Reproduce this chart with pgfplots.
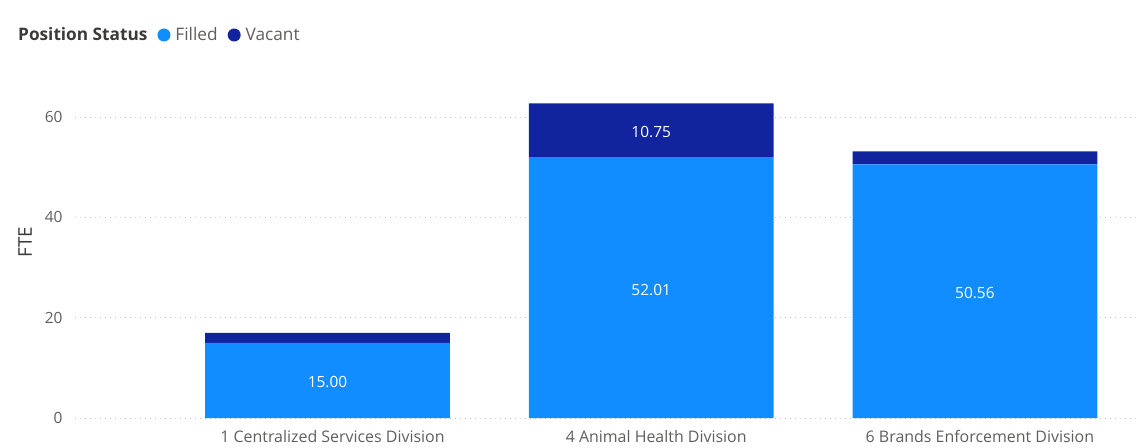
\documentclass[border=0pt]{standalone}
\usepackage{pgfplots}
\pgfplotsset{compat=1.18}
\usepackage{pgfplotstable}
\usepackage{fontspec}
\setmainfont{Open Sans}
\definecolor{filled}{HTML}{118DFF}
\definecolor{vacant}{HTML}{12239E}
\definecolor{tickgray}{HTML}{605E5C}
\definecolor{titlegray}{HTML}{3B3A39}

% FTE by division (x = category index)
\pgfplotstableread{
x filled vacant
0 15.00 1.95
1 52.01 10.75
2 50.56 2.60
}\fte

% data labels, placed at the middle of each shown segment
\pgfplotstableread{
x ymid lbl
0 7.500 15.00
1 26.005 52.01
2 25.280 50.56
1 57.385 10.75
}\labels

\begin{document}
\begin{tikzpicture}
\pgfplotsset{base/.style={
  at={(0,0)}, anchor=south west,
  scale only axis, width=1065bp, height=333bp,
  xmin=-0.78, xmax=2.51, ymin=0, ymax=66.4,
  font=\fontsize{16}{19}\selectfont,
  /pgf/number format/assume math mode=true,
}}
\begin{axis}[base,
  ybar stacked, bar width=0.756,
  axis line style={draw=none}, tick style={draw=none},
  ymajorgrids, major grid style={gray!45, dash pattern=on 0.8bp off 4.2bp},
  ytick={0,20,40,60},
  xtick={0,1,2},
  xticklabels={1 Centralized Services Division, 4 Animal Health Division, 6 Brands Enforcement Division},
  ticklabel style={text=tickgray},
  yticklabel style={xshift=-9bp, font=\fontsize{15.5}{18}\selectfont},
  xticklabel style={xshift=5bp, yshift=-9bp},
  ylabel={FTE},
  every axis y label/.style={at={(axis description cs:0,0.528)}, xshift=-50bp, rotate=90, anchor=center,
    text=titlegray, font=\fontsize{19}{22}\selectfont},
  legend style={at={(axis description cs:0,1)}, anchor=west, xshift=-62bp, yshift=50bp,
    draw=none, fill=none, text=tickgray, inner sep=0pt, font=\fontsize{17.3}{20}\selectfont,
    /tikz/every odd column/.append style={column sep=3bp},
    /tikz/every even column/.append style={column sep=8bp}},
  legend columns=-1,
  legend cell align=left,
]
\addlegendimage{empty legend}
\addlegendentry{\textcolor{titlegray}{\bfseries Position Status}}
\addplot[fill=filled, draw=none, legend image code/.code={\fill[filled] (0.22,0) circle (6.5bp);}]
  table[x=x, y=filled] {\fte};
\addlegendentry{Filled}
\addplot[fill=vacant, draw=none, legend image code/.code={\fill[vacant] (0.22,0) circle (6.5bp);}]
  table[x=x, y=vacant] {\fte};
\addlegendentry{Vacant}
\end{axis}
\begin{axis}[base, hide axis]
\addplot[draw=none, mark=none, nodes near coords, point meta=explicit symbolic,
  nodes near coords style={anchor=center, text=white, yshift=-2bp, font=\fontsize{15.5}{18}\selectfont}]
  table[x=x, y=ymid, meta=lbl] {\labels};
\end{axis}
\pgfresetboundingbox
\path[use as bounding box] (current axis.south west) ++(-75bp,-30bp) rectangle ++(1143bp,448bp);
\end{tikzpicture}
\end{document}
